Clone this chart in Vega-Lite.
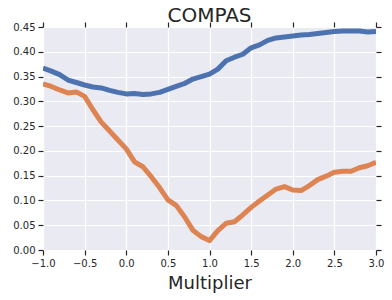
{
  "$schema": "https://vega.github.io/schema/vega-lite/v6.json",
  "autosize": {"type": "none"},
  "width": 333,
  "height": 223,
  "padding": {"left": 43, "top": 27, "right": 16, "bottom": 50},
  "title": {"text": "COMPAS", "fontSize": 20, "font": "DejaVu Sans", "fontWeight": "normal", "color": "#262626", "offset": -5, "anchor": "middle"},
  "data": {"values": [
    {"m": -1.0, "s": "a", "v": 0.367}, {"m": -0.9, "s": "a", "v": 0.361}, {"m": -0.8, "s": "a", "v": 0.354}, {"m": -0.7, "s": "a", "v": 0.343}, {"m": -0.6, "s": "a", "v": 0.338},
    {"m": -0.5, "s": "a", "v": 0.333}, {"m": -0.4, "s": "a", "v": 0.329}, {"m": -0.3, "s": "a", "v": 0.327}, {"m": -0.2, "s": "a", "v": 0.322}, {"m": -0.1, "s": "a", "v": 0.318},
    {"m": 0.0, "s": "a", "v": 0.315}, {"m": 0.1, "s": "a", "v": 0.316}, {"m": 0.2, "s": "a", "v": 0.314}, {"m": 0.3, "s": "a", "v": 0.315}, {"m": 0.4, "s": "a", "v": 0.318},
    {"m": 0.5, "s": "a", "v": 0.324}, {"m": 0.6, "s": "a", "v": 0.330}, {"m": 0.7, "s": "a", "v": 0.336}, {"m": 0.8, "s": "a", "v": 0.345}, {"m": 0.9, "s": "a", "v": 0.350},
    {"m": 1.0, "s": "a", "v": 0.355}, {"m": 1.1, "s": "a", "v": 0.365}, {"m": 1.2, "s": "a", "v": 0.382}, {"m": 1.3, "s": "a", "v": 0.389}, {"m": 1.4, "s": "a", "v": 0.395},
    {"m": 1.5, "s": "a", "v": 0.408}, {"m": 1.6, "s": "a", "v": 0.414}, {"m": 1.7, "s": "a", "v": 0.423}, {"m": 1.8, "s": "a", "v": 0.428}, {"m": 1.9, "s": "a", "v": 0.430},
    {"m": 2.0, "s": "a", "v": 0.432}, {"m": 2.1, "s": "a", "v": 0.434}, {"m": 2.2, "s": "a", "v": 0.435}, {"m": 2.3, "s": "a", "v": 0.437}, {"m": 2.4, "s": "a", "v": 0.439},
    {"m": 2.5, "s": "a", "v": 0.441}, {"m": 2.6, "s": "a", "v": 0.442}, {"m": 2.7, "s": "a", "v": 0.442}, {"m": 2.8, "s": "a", "v": 0.442}, {"m": 2.9, "s": "a", "v": 0.440},
    {"m": 3.0, "s": "a", "v": 0.441},
    {"m": -1.0, "s": "b", "v": 0.335}, {"m": -0.9, "s": "b", "v": 0.330}, {"m": -0.8, "s": "b", "v": 0.323}, {"m": -0.7, "s": "b", "v": 0.317}, {"m": -0.6, "s": "b", "v": 0.319},
    {"m": -0.5, "s": "b", "v": 0.310}, {"m": -0.4, "s": "b", "v": 0.283}, {"m": -0.3, "s": "b", "v": 0.258}, {"m": -0.2, "s": "b", "v": 0.240}, {"m": -0.1, "s": "b", "v": 0.222},
    {"m": 0.0, "s": "b", "v": 0.204}, {"m": 0.1, "s": "b", "v": 0.178}, {"m": 0.2, "s": "b", "v": 0.168}, {"m": 0.3, "s": "b", "v": 0.148}, {"m": 0.4, "s": "b", "v": 0.126},
    {"m": 0.5, "s": "b", "v": 0.101}, {"m": 0.6, "s": "b", "v": 0.090}, {"m": 0.7, "s": "b", "v": 0.067}, {"m": 0.8, "s": "b", "v": 0.040}, {"m": 0.9, "s": "b", "v": 0.027},
    {"m": 1.0, "s": "b", "v": 0.019}, {"m": 1.1, "s": "b", "v": 0.039}, {"m": 1.2, "s": "b", "v": 0.054}, {"m": 1.3, "s": "b", "v": 0.057}, {"m": 1.4, "s": "b", "v": 0.071},
    {"m": 1.5, "s": "b", "v": 0.086}, {"m": 1.6, "s": "b", "v": 0.099}, {"m": 1.7, "s": "b", "v": 0.111}, {"m": 1.8, "s": "b", "v": 0.123}, {"m": 1.9, "s": "b", "v": 0.128},
    {"m": 2.0, "s": "b", "v": 0.121}, {"m": 2.1, "s": "b", "v": 0.120}, {"m": 2.2, "s": "b", "v": 0.130}, {"m": 2.3, "s": "b", "v": 0.142}, {"m": 2.4, "s": "b", "v": 0.149},
    {"m": 2.5, "s": "b", "v": 0.157}, {"m": 2.6, "s": "b", "v": 0.159}, {"m": 2.7, "s": "b", "v": 0.159}, {"m": 2.8, "s": "b", "v": 0.166}, {"m": 2.9, "s": "b", "v": 0.170},
    {"m": 3.0, "s": "b", "v": 0.177}
  ]},
  "layer": [
    {
      "transform": [{"filter": "datum.s === 'a'"}],
      "mark": {"type": "line", "color": "#4C72B0", "strokeWidth": 5, "strokeJoin": "round", "clip": true},
      "encoding": {
        "x": {"field": "m", "type": "quantitative",
              "scale": {"domain": [-1, 3], "nice": false, "zero": false},
              "axis": {"orient": "bottom", "title": "Multiplier", "values": [-1, -0.5, 0, 0.5, 1, 1.5, 2, 2.5, 3], "format": ".1f", "grid": true, "labelFlush": false, "labelOverlap": false}},
        "y": {"field": "v", "type": "quantitative",
              "scale": {"domain": [0, 0.45], "nice": false, "zero": false},
              "axis": {"orient": "left", "title": null, "values": [0, 0.05, 0.1, 0.15, 0.2, 0.25, 0.3, 0.35, 0.4, 0.45], "format": ".2f", "grid": true, "labelFlush": false, "labelOverlap": false}}
      }
    },
    {
      "transform": [{"filter": "datum.s === 'b'"}],
      "mark": {"type": "line", "color": "#DD8452", "strokeWidth": 5, "strokeJoin": "round", "clip": true},
      "encoding": {
        "x": {"field": "m", "type": "quantitative",
              "axis": {"orient": "top", "title": null, "labels": false, "values": [-1, -0.5, 0, 0.5, 1, 1.5, 2, 2.5, 3], "grid": false, "ticks": true}},
        "y": {"field": "v", "type": "quantitative",
              "axis": {"orient": "right", "title": null, "labels": false, "values": [0, 0.05, 0.1, 0.15, 0.2, 0.25, 0.3, 0.35, 0.4, 0.45], "grid": false, "ticks": true}}
      }
    }
  ],
  "resolve": {"axis": {"x": "independent", "y": "independent"}},
  "config": {
    "view": {"fill": "#EAEAF2", "stroke": null},
    "axis": {
      "domain": false,
      "gridColor": "#FFFFFF",
      "gridWidth": 1.2,
      "gridOpacity": 1,
      "tickColor": "#262626",
      "tickSize": 5,
      "tickWidth": 1.2,
      "labelColor": "#262626",
      "labelFont": "DejaVu Sans",
      "labelFontSize": 10,
      "labelPadding": 3,
      "titleFont": "DejaVu Sans",
      "titleFontSize": 18,
      "titleFontWeight": "normal",
      "titleColor": "#262626",
      "titlePadding": 6
    }
  }
}
